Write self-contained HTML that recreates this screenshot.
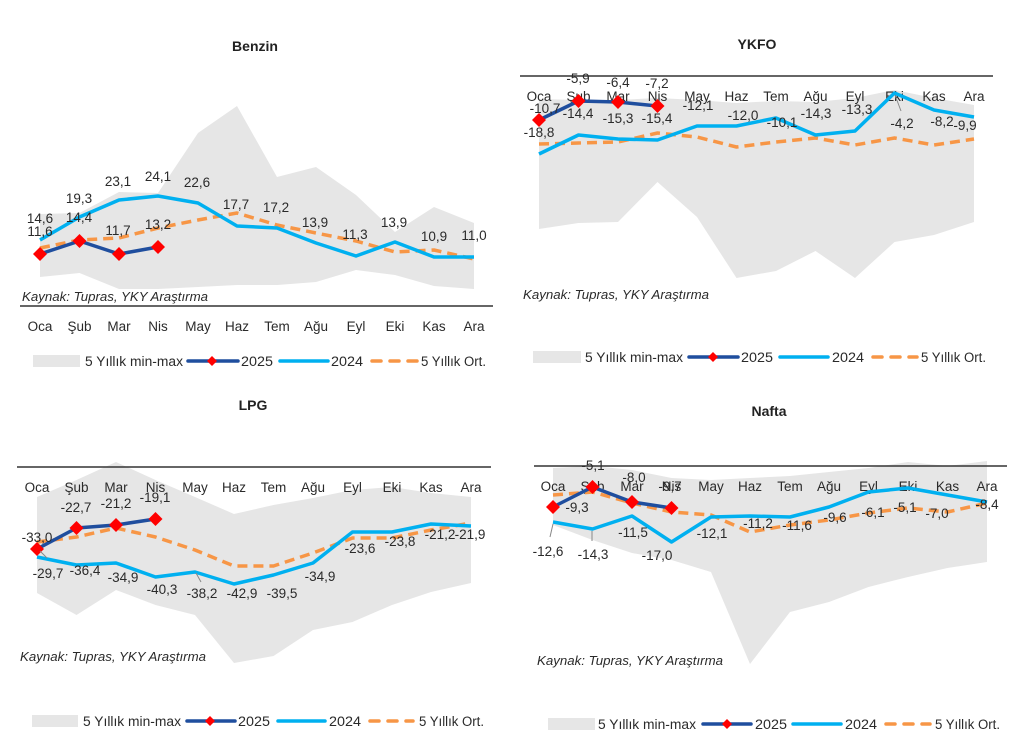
<!DOCTYPE html>
<html><head><meta charset="utf-8"><style>
html,body{margin:0;padding:0;background:#fff;}
svg{display:block;}
text{font-family:"Liberation Sans",sans-serif;fill:#2a2a2a;}
.t{font-size:14px;font-weight:bold;fill:#222;}
.l{font-size:13.5px;}
.m{font-size:13.5px;}
.k{font-size:13px;font-style:italic;}
.g{font-size:13.5px;}
.band{fill:#e6e6e6;stroke:none;}
.b24{fill:none;stroke:#00B0F0;stroke-width:3.5;stroke-linejoin:round;}
.avg{fill:none;stroke:#F79646;stroke-width:3.5;stroke-dasharray:10 6;stroke-linejoin:round;}
.b25{fill:none;stroke:#1F4E9E;stroke-width:3.5;stroke-linejoin:round;}
.ax{stroke:#333;stroke-width:1.5;}
.ld{stroke:#888;stroke-width:1;}
</style></head><body>
<svg width="1024" height="754" viewBox="0 0 1024 754" xmlns="http://www.w3.org/2000/svg">
<defs>
<path id="dm" d="M0,-7 L7,0 L0,7 L-7,0 Z" fill="#ff0000"/>
<path id="dms" d="M0,-5 L5,0 L0,5 L-5,0 Z" fill="#ff0000"/>
</defs>

<!-- ============ BENZIN ============ -->
<text class="t" x="255" y="51" text-anchor="middle">Benzin</text>
<polygon class="band" points="40,214 79.5,213 119,192 158,193 198,133 237,106 277,177 316,167 356,195 395,232 434,207 474,223 474,289 434,286 395,275 356,270 316,282 277,285 237,285 198,287 158,289 119,289 79.5,273 40,277"/>
<polyline class="avg" points="40,248 79.5,240 119,238 158,228 198,220 237,213 277,225 316,233 356,241 395,252 434,250 474,259"/>
<polyline class="b24" points="40,240 79.5,217 119,200 158,196 198,203 237,226 277,228 316,243 356,256 395,242 434,257 474,257"/>
<polyline class="b25" points="40,254 79.5,241 119,254 158,247"/>
<use href="#dm" x="40" y="254"/><use href="#dm" x="79.5" y="241"/><use href="#dm" x="119" y="254"/><use href="#dm" x="158" y="247"/>
<g class="l" text-anchor="middle">
<text x="40" y="223">14,6</text><text x="40" y="236">11,6</text>
<text x="79" y="203">19,3</text><text x="79" y="222">14,4</text>
<text x="118" y="186">23,1</text><text x="118" y="235">11,7</text>
<text x="158" y="181">24,1</text><text x="158" y="229">13,2</text>
<text x="197" y="187">22,6</text><text x="236" y="209">17,7</text>
<text x="276" y="212">17,2</text><text x="315" y="227">13,9</text>
<text x="355" y="239">11,3</text><text x="394" y="227">13,9</text>
<text x="434" y="241">10,9</text><text x="474" y="240">11,0</text>
</g>
<text class="k" x="22" y="301" textLength="186" lengthAdjust="spacingAndGlyphs">Kaynak: Tupras, YKY Araştırma</text>
<line class="ax" x1="20" y1="306" x2="493" y2="306"/>
<g class="m" text-anchor="middle">
<text x="40" y="331">Oca</text><text x="79.5" y="331">Şub</text><text x="119" y="331">Mar</text><text x="158" y="331">Nis</text><text x="198" y="331">May</text><text x="237" y="331">Haz</text><text x="277" y="331">Tem</text><text x="316" y="331">Ağu</text><text x="356" y="331">Eyl</text><text x="395" y="331">Eki</text><text x="434" y="331">Kas</text><text x="474" y="331">Ara</text>
</g>
<g>
<rect x="33" y="355" width="47" height="12" fill="#e6e6e6"/>
<text class="g" x="85" y="366" textLength="98" lengthAdjust="spacingAndGlyphs">5 Yıllık min-max</text>
<line x1="188" y1="361" x2="238" y2="361" stroke="#1F4E9E" stroke-width="3.5" stroke-linecap="round"/><use href="#dms" x="212" y="361"/>
<text class="g" x="241" y="366" textLength="32" lengthAdjust="spacingAndGlyphs">2025</text>
<line x1="280" y1="361" x2="328" y2="361" stroke="#00B0F0" stroke-width="3.5" stroke-linecap="round"/>
<text class="g" x="331" y="366" textLength="32" lengthAdjust="spacingAndGlyphs">2024</text>
<line x1="372" y1="361" x2="417" y2="361" stroke="#F79646" stroke-width="3.5" stroke-dasharray="9 9" stroke-linecap="round"/>
<text class="g" x="421" y="366" textLength="65" lengthAdjust="spacingAndGlyphs">5 Yıllık Ort.</text>
</g>

<!-- ============ YKFO ============ -->
<text class="t" x="757" y="49" text-anchor="middle">YKFO</text>
<polygon class="band" points="539,99 578.5,100 618,100 657.5,98 697,100 736.5,103 776,101 815.5,102 855,98 894.5,90 934,98 974,105 974,222 934,235 894.5,242 855,278 815.5,251 776,271 736.5,278 697,217 657.5,182 618,222 578.5,223 539,229"/>
<line class="ax" x1="520" y1="76" x2="993" y2="76"/>
<g class="m" text-anchor="middle">
<text x="539" y="101">Oca</text><text x="578.5" y="101">Şub</text><text x="618" y="101">Mar</text><text x="657.5" y="101">Nis</text><text x="697" y="101">May</text><text x="736.5" y="101">Haz</text><text x="776" y="101">Tem</text><text x="815.5" y="101">Ağu</text><text x="855" y="101">Eyl</text><text x="894.5" y="101">Eki</text><text x="934" y="101">Kas</text><text x="974" y="101">Ara</text>
</g>
<polyline class="avg" points="539,144 578.5,143 618,142 657.5,133 697,137 736.5,147 776,142 815.5,138 855,145 894.5,138 934,145 974,139"/>
<polyline class="b24" points="539,154 578.5,135 618,139 657.5,140 697,126 736.5,126 776,118 815.5,135 855,131 894.5,93 934,110 974,117"/>
<polyline class="b25" points="539,120 578.5,101 618,102 657.5,106"/>
<use href="#dm" x="539" y="120"/><use href="#dm" x="578.5" y="101"/><use href="#dm" x="618" y="102"/><use href="#dm" x="657.5" y="106"/>
<line class="ld" x1="895" y1="95" x2="901" y2="111"/>
<g class="l" text-anchor="middle">
<text x="545" y="113">-10,7</text><text x="539" y="137">-18,8</text>
<text x="578" y="83">-5,9</text><text x="578" y="118">-14,4</text>
<text x="618" y="87">-6,4</text><text x="618" y="123">-15,3</text>
<text x="657" y="88">-7,2</text><text x="657" y="123">-15,4</text>
<text x="698" y="110">-12,1</text><text x="743" y="120">-12,0</text>
<text x="782" y="127">-10,1</text><text x="816" y="118">-14,3</text>
<text x="857" y="114">-13,3</text><text x="902" y="128">-4,2</text>
<text x="942" y="126">-8,2</text><text x="965" y="130">-9,9</text>
</g>
<text class="k" x="523" y="299" textLength="186" lengthAdjust="spacingAndGlyphs">Kaynak: Tupras, YKY Araştırma</text>
<g>
<rect x="533" y="351" width="48" height="12" fill="#e6e6e6"/>
<text class="g" x="585" y="362" textLength="98" lengthAdjust="spacingAndGlyphs">5 Yıllık min-max</text>
<line x1="689" y1="357" x2="738" y2="357" stroke="#1F4E9E" stroke-width="3.5" stroke-linecap="round"/><use href="#dms" x="713" y="357"/>
<text class="g" x="741" y="362" textLength="32" lengthAdjust="spacingAndGlyphs">2025</text>
<line x1="780" y1="357" x2="828" y2="357" stroke="#00B0F0" stroke-width="3.5" stroke-linecap="round"/>
<text class="g" x="832" y="362" textLength="32" lengthAdjust="spacingAndGlyphs">2024</text>
<line x1="873" y1="357" x2="917" y2="357" stroke="#F79646" stroke-width="3.5" stroke-dasharray="9 9" stroke-linecap="round"/>
<text class="g" x="921" y="362" textLength="65" lengthAdjust="spacingAndGlyphs">5 Yıllık Ort.</text>
</g>

<!-- ============ LPG ============ -->
<text class="t" x="253" y="410" text-anchor="middle">LPG</text>
<polygon class="band" points="37,497 76.5,480 116,462 155.5,480 195,497 234,514 273.5,505 313,498 352.5,490 392,487 431,493 471,497 471,583 431,592 392,605 352.5,622 313,630 273.5,656 234,663 195,615 155.5,605 116,590 76.5,615 37,593"/>
<line class="ax" x1="17" y1="467" x2="491" y2="467"/>
<g class="m" text-anchor="middle">
<text x="37" y="492">Oca</text><text x="76.5" y="492">Şub</text><text x="116" y="492">Mar</text><text x="155.5" y="492">Nis</text><text x="195" y="492">May</text><text x="234" y="492">Haz</text><text x="273.5" y="492">Tem</text><text x="313" y="492">Ağu</text><text x="352.5" y="492">Eyl</text><text x="392" y="492">Eki</text><text x="431" y="492">Kas</text><text x="471" y="492">Ara</text>
</g>
<polyline class="avg" points="37,542 76.5,537 116,528 155.5,537 195,550 234,566 273.5,566 313,553 352.5,538 392,538 431,530 471,523"/>
<polyline class="b24" points="37,557 76.5,565 116,563 155.5,577 195,572 234,584 273.5,575 313,563 352.5,532 392,532 431,524 471,526"/>
<polyline class="b25" points="37,549 76.5,528 116,525 155.5,519"/>
<use href="#dm" x="37" y="549"/><use href="#dm" x="76.5" y="528"/><use href="#dm" x="116" y="525"/><use href="#dm" x="155.5" y="519"/>
<line class="ld" x1="40" y1="551" x2="47" y2="558"/>
<line class="ld" x1="196" y1="573" x2="201" y2="582"/>
<g class="l" text-anchor="middle">
<text x="37" y="542">-33,0</text><text x="48" y="578">-29,7</text>
<text x="85" y="575">-36,4</text><text x="76" y="512">-22,7</text>
<text x="116" y="508">-21,2</text><text x="155" y="502">-19,1</text>
<text x="123" y="582">-34,9</text><text x="162" y="594">-40,3</text>
<text x="202" y="598">-38,2</text><text x="242" y="598">-42,9</text>
<text x="282" y="598">-39,5</text><text x="320" y="581">-34,9</text>
<text x="360" y="553">-23,6</text><text x="400" y="546">-23,8</text>
<text x="440" y="539">-21,2</text><text x="470" y="539">-21,9</text>
</g>
<text class="k" x="20" y="661" textLength="186" lengthAdjust="spacingAndGlyphs">Kaynak: Tupras, YKY Araştırma</text>
<g>
<rect x="32" y="715" width="46" height="12" fill="#e6e6e6"/>
<text class="g" x="83" y="726" textLength="98" lengthAdjust="spacingAndGlyphs">5 Yıllık min-max</text>
<line x1="187" y1="721" x2="235" y2="721" stroke="#1F4E9E" stroke-width="3.5" stroke-linecap="round"/><use href="#dms" x="210" y="721"/>
<text class="g" x="238" y="726" textLength="32" lengthAdjust="spacingAndGlyphs">2025</text>
<line x1="278" y1="721" x2="325" y2="721" stroke="#00B0F0" stroke-width="3.5" stroke-linecap="round"/>
<text class="g" x="329" y="726" textLength="32" lengthAdjust="spacingAndGlyphs">2024</text>
<line x1="370" y1="721" x2="413" y2="721" stroke="#F79646" stroke-width="3.5" stroke-dasharray="9 9" stroke-linecap="round"/>
<text class="g" x="419" y="726" textLength="65" lengthAdjust="spacingAndGlyphs">5 Yıllık Ort.</text>
</g>

<!-- ============ NAFTA ============ -->
<text class="t" x="769" y="416" text-anchor="middle">Nafta</text>
<polygon class="band" points="553,468 592.5,466 632,470 671.5,478 711,480 750,478 790,476 829,472 868.5,468 908,462 947.5,466 987,461 987,562 947.5,568 908,577 868.5,587 829,602 790,612 750,664 711,572 671.5,560 632,553 592.5,540 553,525"/>
<line class="ax" x1="534" y1="466" x2="1007" y2="466"/>
<g class="m" text-anchor="middle">
<text x="553" y="491">Oca</text><text x="592.5" y="491">Şub</text><text x="632" y="491">Mar</text><text x="671.5" y="491">Nis</text><text x="711" y="491">May</text><text x="750" y="491">Haz</text><text x="790" y="491">Tem</text><text x="829" y="491">Ağu</text><text x="868.5" y="491">Eyl</text><text x="908" y="491">Eki</text><text x="947.5" y="491">Kas</text><text x="987" y="491">Ara</text>
</g>
<polyline class="avg" points="553,495 592.5,492 632,503 671.5,512 711,515 750,532 790,525 829,520 868.5,513 908,508 947.5,512 987,503"/>
<polyline class="b24" points="553,522 592.5,529 632,516 671.5,542 711,517 750,516 790,517 829,507 868.5,492 908,488 947.5,495 987,502"/>
<polyline class="b25" points="553,507 592.5,487 632,502 671.5,508"/>
<use href="#dm" x="553" y="507"/><use href="#dm" x="592.5" y="487"/><use href="#dm" x="632" y="502"/><use href="#dm" x="671.5" y="508"/>
<line class="ld" x1="553" y1="524" x2="550" y2="537"/>
<line class="ld" x1="592" y1="531" x2="592" y2="541"/>
<g class="l" text-anchor="middle">
<text x="593" y="470">-5,1</text><text x="634" y="482">-8,0</text>
<text x="670" y="491">-9,7</text><text x="577" y="512">-9,3</text>
<text x="548" y="556">-12,6</text><text x="593" y="559">-14,3</text>
<text x="633" y="537">-11,5</text><text x="657" y="560">-17,0</text>
<text x="712" y="538">-12,1</text><text x="758" y="528">-11,2</text>
<text x="797" y="530">-11,6</text><text x="835" y="522">-9,6</text>
<text x="873" y="517">-6,1</text><text x="905" y="512">-5,1</text>
<text x="937" y="518">-7,0</text><text x="987" y="509">-8,4</text>
</g>
<text class="k" x="537" y="665" textLength="186" lengthAdjust="spacingAndGlyphs">Kaynak: Tupras, YKY Araştırma</text>
<g>
<rect x="548" y="718" width="47" height="12" fill="#e6e6e6"/>
<text class="g" x="598" y="729" textLength="98" lengthAdjust="spacingAndGlyphs">5 Yıllık min-max</text>
<line x1="703" y1="724" x2="751" y2="724" stroke="#1F4E9E" stroke-width="3.5" stroke-linecap="round"/><use href="#dms" x="727" y="724"/>
<text class="g" x="755" y="729" textLength="32" lengthAdjust="spacingAndGlyphs">2025</text>
<line x1="793" y1="724" x2="841" y2="724" stroke="#00B0F0" stroke-width="3.5" stroke-linecap="round"/>
<text class="g" x="845" y="729" textLength="32" lengthAdjust="spacingAndGlyphs">2024</text>
<line x1="886" y1="724" x2="930" y2="724" stroke="#F79646" stroke-width="3.5" stroke-dasharray="9 9" stroke-linecap="round"/>
<text class="g" x="935" y="729" textLength="65" lengthAdjust="spacingAndGlyphs">5 Yıllık Ort.</text>
</g>
</svg>
</body></html>
